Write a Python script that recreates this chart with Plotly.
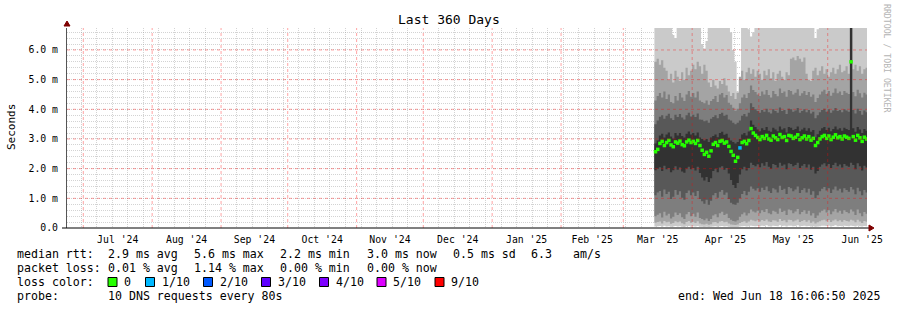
import numpy as np
import pandas as pd
import plotly.graph_objects as go

# ---------------- data ----------------
END_TIME = "2025-06-18 16:06:50"
SPAN_DAYS = 360
FIRST_DAY = "2025-03-15"

# sorted ping values per day (shown in ms as "m"), Mar 15 .. Jun 18
p1 = ([0.05, 0.06, 0.07, 0.04, 0.08, 0.05, 0.06, 0.04, 0.05, 0.07, 0.05, 0.06, 0.04, 0.03, 0.06, 0.07, 0.05]
      + [0.06, 0.05, 0.07, 0.04, 0.04, 0.03, 0.04, 0.03, 0.04, 0.05, 0.06, 0.04, 0.06, 0.07, 0.05,
         0.06, 0.04, 0.03, 0.03, 0.03, 0.03, 0.05, 0.06, 0.07, 0.05, 0.06, 0.08, 0.07, 0.06, 0.07]
      + [0.06, 0.08, 0.07, 0.09, 0.06, 0.05, 0.08, 0.07, 0.06, 0.09, 0.07, 0.08, 0.05, 0.08, 0.08, 0.06,
         0.07, 0.09, 0.05, 0.07, 0.08, 0.06, 0.07, 0.05, 0.06, 0.04, 0.05, 0.06, 0.08, 0.08, 0.07]
      + [0.08, 0.05, 0.07, 0.09, 0.06, 0.07, 0.06, 0.08, 0.07, 0.06, 0.08, 0.07, 0.05, 0.08, 0.06, 0.05, 0.07, 0.06])
p2 = ([0.18, 0.20, 0.22, 0.15, 0.24, 0.19, 0.21, 0.14, 0.17, 0.23, 0.19, 0.22, 0.16, 0.13, 0.20, 0.24, 0.18]
      + [0.21, 0.17, 0.23, 0.15, 0.13, 0.12, 0.14, 0.11, 0.13, 0.19, 0.20, 0.16, 0.22, 0.24, 0.19,
         0.21, 0.15, 0.12, 0.11, 0.10, 0.12, 0.17, 0.20, 0.23, 0.18, 0.22, 0.28, 0.25, 0.23, 0.26]
      + [0.22, 0.27, 0.24, 0.29, 0.22, 0.20, 0.26, 0.25, 0.21, 0.30, 0.24, 0.26, 0.19, 0.28, 0.27, 0.22,
         0.25, 0.29, 0.20, 0.24, 0.27, 0.21, 0.26, 0.18, 0.22, 0.15, 0.19, 0.23, 0.26, 0.28, 0.23]
      + [0.27, 0.20, 0.25, 0.29, 0.23, 0.26, 0.21, 0.27, 0.24, 0.22, 0.28, 0.25, 0.19, 0.28, 0.22, 0.17, 0.24, 0.21])
p3 = ([0.40, 0.45, 0.50, 0.35, 0.55, 0.42, 0.48, 0.32, 0.38, 0.52, 0.44, 0.50, 0.36, 0.30, 0.46, 0.54, 0.40]
      + [0.48, 0.38, 0.52, 0.34, 0.30, 0.26, 0.32, 0.24, 0.30, 0.42, 0.46, 0.36, 0.50, 0.55, 0.44,
         0.48, 0.34, 0.28, 0.24, 0.22, 0.26, 0.38, 0.46, 0.52, 0.42, 0.50, 0.62, 0.56, 0.52, 0.58]
      + [0.50, 0.60, 0.54, 0.64, 0.50, 0.46, 0.58, 0.55, 0.48, 0.66, 0.54, 0.58, 0.44, 0.62, 0.60, 0.50,
         0.56, 0.64, 0.46, 0.54, 0.60, 0.48, 0.58, 0.42, 0.50, 0.34, 0.42, 0.52, 0.58, 0.62, 0.52]
      + [0.60, 0.46, 0.56, 0.64, 0.52, 0.58, 0.48, 0.60, 0.54, 0.50, 0.62, 0.56, 0.44, 0.62, 0.50, 0.40, 0.54, 0.48])
p4 = ([1.10, 1.20, 1.25, 1.05, 1.30, 1.15, 1.22, 0.98, 1.05, 1.28, 1.12, 1.24, 1.02, 0.95, 1.18, 1.26, 1.10]
      + [1.20, 1.08, 1.25, 0.98, 0.90, 0.82, 0.95, 0.78, 0.92, 1.10, 1.18, 1.02, 1.22, 1.28, 1.12,
         1.20, 0.98, 0.85, 0.80, 0.78, 0.85, 1.00, 1.15, 1.25, 1.10, 1.22, 1.40, 1.32, 1.26, 1.34]
      + [1.22, 1.36, 1.28, 1.40, 1.24, 1.18, 1.34, 1.30, 1.20, 1.42, 1.28, 1.32, 1.15, 1.38, 1.34, 1.24,
         1.30, 1.40, 1.18, 1.28, 1.34, 1.20, 1.32, 1.12, 1.24, 1.00, 1.10, 1.24, 1.32, 1.38, 1.26]
      + [1.34, 1.18, 1.30, 1.40, 1.26, 1.32, 1.20, 1.34, 1.28, 1.22, 1.38, 1.30, 1.14, 1.36, 1.24, 1.10, 1.28, 1.20])
p5 = ([1.95, 2.00, 2.05, 1.92, 2.10, 1.98, 2.02, 1.88, 1.95, 2.08, 1.96, 2.04, 1.90, 1.86, 2.00, 2.06, 1.98]
      + [2.02, 1.94, 2.06, 1.85, 1.70, 1.60, 1.72, 1.55, 1.68, 1.92, 2.00, 1.88, 2.04, 2.08, 1.96,
         2.02, 1.84, 1.62, 1.45, 1.35, 1.52, 1.80, 1.98, 2.06, 1.94, 2.02, 2.20, 2.12, 2.08, 2.15]
      + [2.05, 2.18, 2.10, 2.22, 2.06, 2.00, 2.16, 2.12, 2.04, 2.20, 2.10, 2.14, 1.98, 2.18, 2.16, 2.08,
         2.12, 2.20, 2.02, 2.10, 2.16, 2.04, 2.14, 1.96, 2.06, 1.84, 1.92, 2.06, 2.14, 2.18, 2.08]
      + [2.16, 2.02, 2.12, 2.20, 2.08, 2.14, 2.04, 2.16, 2.10, 2.06, 2.20, 2.12, 1.98, 2.18, 2.08, 1.94, 2.10, 2.04])
p6 = ([2.85, 2.95, 3.12, 3.18, 3.05, 3.15, 3.22, 3.08, 3.02, 3.20, 3.12, 3.20, 3.10, 3.05, 3.18, 3.25, 3.15]
      + [3.20, 3.12, 3.22, 3.05, 3.00, 2.95, 3.00, 2.90, 3.05, 3.10, 3.15, 3.06, 3.20, 3.24, 3.14,
         3.18, 3.04, 2.95, 2.90, 2.85, 2.90, 3.00, 3.15, 3.20, 3.12, 3.25, 3.62, 3.48, 3.40, 3.32]
      + [3.26, 3.36, 3.30, 3.40, 3.28, 3.24, 3.38, 3.32, 3.26, 3.42, 3.32, 3.36, 3.22, 3.40, 3.38, 3.30,
         3.34, 3.42, 3.26, 3.32, 3.38, 3.28, 3.36, 3.24, 3.30, 3.06, 3.16, 3.28, 3.36, 3.40, 3.30]
      + [3.38, 3.26, 3.34, 3.42, 3.32, 3.36, 3.28, 3.38, 3.34, 3.30, 7.50, 3.36, 3.24, 3.40, 3.32, 3.20, 3.34, 3.28])
p7 = ([3.50, 3.62, 3.75, 3.80, 3.68, 3.78, 3.85, 3.70, 3.64, 3.82, 3.74, 3.84, 3.72, 3.66, 3.80, 3.88, 3.76]
      + [3.82, 3.74, 3.86, 3.66, 3.65, 3.60, 3.62, 3.55, 3.68, 3.74, 3.80, 3.70, 3.84, 3.88, 3.78,
         3.82, 3.66, 3.62, 3.55, 3.50, 3.55, 3.62, 3.78, 3.84, 3.76, 3.88, 4.20, 4.08, 4.00, 3.94]
      + [3.88, 3.98, 3.92, 4.02, 3.90, 3.86, 4.00, 3.94, 3.88, 4.06, 3.94, 3.98, 3.84, 4.02, 4.00, 3.92,
         3.96, 4.04, 3.88, 3.94, 4.00, 3.90, 3.98, 3.86, 3.92, 3.70, 3.80, 3.90, 3.98, 4.02, 3.92]
      + [4.00, 3.88, 3.96, 4.04, 3.94, 3.98, 3.90, 4.00, 3.96, 3.92, 7.50, 3.98, 3.86, 4.02, 3.94, 3.82, 3.96, 3.90])
p8 = ([4.30, 4.45, 4.55, 4.40, 4.60, 4.35, 4.50, 4.25, 4.20, 4.45, 4.30, 4.55, 4.40, 4.28, 4.50, 4.62, 4.42]
      + [4.55, 4.40, 4.60, 4.30, 4.25, 4.20, 4.30, 4.15, 4.28, 4.35, 4.45, 4.25, 4.50, 4.55, 4.40,
         4.48, 4.22, 4.15, 4.05, 3.95, 4.02, 4.20, 4.40, 4.50, 4.38, 4.55, 4.80, 4.65, 4.58, 4.50]
      + [4.45, 4.60, 4.50, 4.65, 4.48, 4.40, 4.62, 4.52, 4.44, 4.70, 4.55, 4.60, 4.42, 4.65, 4.62, 4.50,
         4.56, 4.68, 4.46, 4.54, 4.62, 4.48, 4.58, 4.42, 4.50, 4.25, 4.38, 4.50, 4.60, 4.66, 4.52]
      + [4.62, 4.46, 4.56, 4.70, 4.54, 4.60, 4.48, 4.62, 4.56, 4.52, 7.50, 4.58, 4.44, 4.66, 4.54, 4.40, 4.56, 4.50])
p9 = ([5.60, 5.70, 5.50, 5.65, 5.40, 5.30, 5.00, 5.20, 4.90, 5.30, 5.10, 4.95, 5.25, 5.00, 5.40, 5.15, 5.30]
      + [5.50, 5.35, 5.60, 5.45, 5.20, 5.50, 5.30, 4.90, 4.75, 5.00, 4.80, 4.70, 4.95, 4.85, 5.05,
         4.80, 4.60, 4.45, 4.55, 4.35, 4.55, 5.10, 5.30, 5.00, 5.25, 5.40, 5.20, 5.35, 5.10, 5.30]
      + [5.20, 5.00, 5.30, 5.15, 5.35, 5.05, 5.25, 4.95, 5.20, 5.30, 5.10, 5.00, 5.25, 5.15, 5.70, 5.75,
         5.65, 5.80, 5.70, 5.60, 5.75, 5.20, 5.00, 4.95, 5.30, 5.40, 5.15, 5.30, 5.45, 5.20, 5.35]
      + [5.10, 5.25, 5.40, 5.20, 5.35, 5.50, 5.25, 5.30, 5.45, 5.20, 7.50, 5.35, 5.50, 5.30, 5.45, 5.20, 5.35, 5.40])
p10 = ([7.40, 7.60, 7.30, 7.80, 7.50, 7.20, 7.60, 7.40, 6.50, 6.40, 7.30, 7.70, 7.50, 7.20, 7.60, 7.40, 7.80]
       + [7.50, 7.30, 7.60, 7.20, 6.20, 6.05, 6.30, 7.40, 7.60, 7.30, 7.50, 7.20, 7.70, 7.40, 7.60,
          7.30, 7.10, 6.60, 6.00, 5.60, 4.60, 5.00, 7.60, 7.40, 7.20, 6.70, 6.45, 6.60, 7.40, 7.60]
       + [7.50, 7.30, 7.60, 7.40, 7.20, 7.70, 7.50, 7.30, 7.60, 7.40, 7.80, 7.20, 7.50, 7.60, 7.30, 7.40,
          7.70, 7.50, 7.20, 7.60, 7.40, 7.30, 7.50, 7.70, 7.40, 6.40, 6.70, 7.50, 7.30, 7.60, 7.40]
       + [7.50, 7.30, 7.60, 7.40, 7.20, 7.70, 7.50, 7.30, 7.60, 7.40, 7.80, 7.20, 7.50, 7.60, 7.30, 7.40, 7.70, 7.50])
median = ([2.57, 2.65, 2.85, 2.92, 2.78, 2.88, 2.95, 2.80, 2.74, 2.90, 2.86, 2.93, 2.81, 2.77, 2.90, 2.96, 2.88]
          + [2.92, 2.85, 2.95, 2.78, 2.62, 2.48, 2.55, 2.42, 2.60, 2.82, 2.88, 2.78, 2.92, 2.95, 2.86,
             2.90, 2.75, 2.58, 2.45, 2.25, 2.38, 2.70, 2.88, 2.92, 2.84, 2.95, 3.35, 3.20, 3.12, 3.05]
          + [2.98, 3.08, 3.02, 3.12, 3.00, 2.96, 3.10, 3.04, 2.98, 3.15, 3.05, 3.08, 2.95, 3.12, 3.10, 3.02,
             3.06, 3.14, 2.98, 3.04, 3.10, 3.00, 3.08, 2.96, 3.02, 2.78, 2.88, 3.00, 3.08, 3.12, 3.02]
          + [3.10, 2.98, 3.06, 3.14, 3.04, 3.08, 3.00, 3.10, 3.06, 3.02, 5.60, 3.08, 2.96, 3.12, 3.04, 2.92, 3.06, 3.00])
loss_dates = ["2025-04-22"]
loss_counts = [1]

loss_labels = ["0", "1/10", "2/10", "3/10", "4/10", "5/10", "9/10"]
loss_levels = [0, 1, 2, 3, 4, 5, 9]
loss_colors = ["#26ff00", "#00b8ff", "#0059ff", "#5e00ff", "#7e00ff", "#dd00ff", "#ff0000"]

y_tickvals = [0, 1, 2, 3, 4, 5, 6]
y_ticktext = ["0.0", "1.0 m", "2.0 m", "3.0 m", "4.0 m", "5.0 m", "6.0 m"]

stat_rows = [
    ["median rtt:", "2.9 ms avg", "5.6 ms max", "2.2 ms min", "3.0 ms now", "0.5 ms sd", "6.3", "am/s"],
    ["packet loss:", "0.01 % avg", "1.14 % max", "0.00 % min", "0.00 % now"],
]
probe_text = ["probe:", "10 DNS requests every 80s"]
end_text = "end: Wed Jun 18 16:06:50 2025"
title_text = "Last 360 Days"
ylabel_text = "Seconds"
credit_text = "RRDTOOL / TOBI OETIKER"

# ---------------- figure ----------------
FONT = "DejaVu Sans Mono"
W, H = 897, 310
L, R, T, B = 67, 30, 28, 82
PW, PH = W - L - R, H - T - B
YMAX = 6.74

def px(x):
    return (x - L) / PW

def py(y):
    return (T + PH - y) / PH

end_ts = pd.Timestamp(END_TIME)
start_ts = end_ts - pd.Timedelta(days=SPAN_DAYS)
days = pd.date_range(FIRST_DAY, periods=len(median), freq="D")
x_step = list(days) + [end_ts]

def ext(a):
    return list(a) + [a[-1]]

fig = go.Figure()
pings = [p1, p2, p3, p4, p5, p6, p7, p8, p9, p10]
band_colors = ["#cacaca", "#a4a4a4", "#7e7e7e", "#585858", "#323232"]
for i in range(5):
    lo, hi = pings[i], pings[9 - i]
    fig.add_trace(go.Scatter(x=x_step, y=ext(lo), mode="lines",
                             line=dict(width=0, shape="hv"), hoverinfo="skip", showlegend=False))
    fig.add_trace(go.Scatter(x=x_step, y=ext(hi), mode="lines",
                             line=dict(width=0, shape="hv"), fill="tonexty",
                             fillcolor=band_colors[i], hoverinfo="skip", showlegend=False))

loss = pd.Series(0, index=days)
for d, c in zip(loss_dates, loss_counts):
    loss[pd.Timestamp(d)] = c

def loss_color(v):
    idx = 0
    for k, lv in enumerate(loss_levels):
        if v >= lv:
            idx = k
    return loss_colors[idx]

fig.add_trace(go.Scatter(
    x=days + pd.Timedelta(hours=12), y=median, mode="markers",
    marker=dict(symbol="square", size=3.5, color=[loss_color(v) for v in loss.values],
                line=dict(width=0)),
    hoverinfo="skip", showlegend=False))

grid_minor = "rgba(150,150,150,0.42)"
grid_major = "rgba(255,0,0,0.36)"

fig.update_xaxes(
    type="date", range=[start_ts, end_ts],
    tick0="2024-07-01", dtick="M1", ticklabelmode="period", tickformat="%b '%y",
    showgrid=False, zeroline=False, showline=False,
    ticks="outside", ticklen=2, tickcolor="rgba(0,0,0,0)",
    tickfont=dict(family=FONT, size=9.8, color="#000"),
    minor=dict(tickmode="linear", tick0="2024-07-07", dtick=7 * 86400000,
               showgrid=True, gridcolor=grid_minor, griddash="1px,1px", gridwidth=1),
    fixedrange=True,
)
fig.update_yaxes(
    range=[0, YMAX], tickmode="array", tickvals=y_tickvals, ticktext=y_ticktext,
    showgrid=False, zeroline=False, showline=True, linecolor="#555", linewidth=1,
    ticks="outside", ticklen=6, tickcolor="rgba(0,0,0,0)",
    tickfont=dict(family=FONT, size=9.8, color="#000"),
    minor=dict(tickmode="linear", tick0=0, dtick=0.2,
               showgrid=True, gridcolor=grid_minor, griddash="1px,1px", gridwidth=1),
    fixedrange=True,
)

shapes = []
for m in pd.date_range("2024-07-01", end_ts, freq="MS"):
    shapes.append(dict(type="line", xref="x", yref="paper", x0=m, x1=m, y0=0, y1=1,
                       line=dict(color=grid_major, width=1, dash="dot"), layer="above"))
for v in y_tickvals[1:]:
    shapes.append(dict(type="line", xref="paper", yref="y", x0=0, x1=1, y0=v, y1=v,
                       line=dict(color=grid_major, width=1, dash="dot"), layer="above"))
# axes lines and arrows
shapes.append(dict(type="line", xref="paper", yref="paper", x0=px(62), x1=px(870), y0=0, y1=0,
                   line=dict(color="#000", width=1), layer="above"))
shapes.append(dict(type="path", xref="paper", yref="paper",
                   path=f"M {px(869)} {py(225)} L {px(874)} {py(228)} L {px(869)} {py(231)} Z",
                   fillcolor="#7f0000", line=dict(color="#7f0000", width=1), layer="above"))
shapes.append(dict(type="path", xref="paper", yref="paper",
                   path=f"M {px(64)} {py(26)} L {px(67)} {py(21)} L {px(70)} {py(26)} Z",
                   fillcolor="#7f0000", line=dict(color="#7f0000", width=1), layer="above"))

# legend squares
sq_x = [108, 145.5, 203.5, 261.5, 319.5, 377, 435]
for sx, col in zip(sq_x, loss_colors):
    shapes.append(dict(type="rect", xref="paper", yref="paper",
                       x0=px(sx), x1=px(sx + 9), y0=py(286.5), y1=py(277.5),
                       fillcolor=col, line=dict(color="#000", width=1)))

ann = []
def text(x, y, s, size=11.6, anchor="left", color="#000", angle=0, yanchor="middle"):
    ann.append(dict(x=px(x), y=py(y), xref="paper", yref="paper", text=s, showarrow=False,
                    xanchor=anchor, yanchor=yanchor, textangle=angle, borderpad=0,
                    font=dict(family=FONT, size=size, color=color)))

row1_x = [16, 107, 193, 279, 366, 452, 530, 572]
row2_x = [16, 107, 193, 279, 366]
for s, x in zip(stat_rows[0], row1_x):
    text(x, 254, s.replace(" ", "&nbsp;"))
for s, x in zip(stat_rows[1], row2_x):
    text(x, 268, s.replace(" ", "&nbsp;"))
text(16, 282, "loss&nbsp;color:")
for sx, lab in zip(sq_x, loss_labels):
    text(sx + 15, 282, lab)
text(16, 296, probe_text[0])
text(107, 296, probe_text[1].replace(" ", "&nbsp;"))
text(881, 296, end_text.replace(" ", "&nbsp;"), anchor="right")
text(448.5, 19, title_text.replace(" ", "&nbsp;"), size=13, anchor="center")
text(11, 127, ylabel_text, size=11, anchor="center", angle=-90)
text(887, 59, credit_text.replace(" ", "&nbsp;"), size=8.2, anchor="center", color="#b4b4b4", angle=90)

fig.update_layout(
    width=W, height=H, autosize=False,
    margin=dict(l=L, r=R, t=T, b=B, pad=0),
    paper_bgcolor="white", plot_bgcolor="white",
    showlegend=False, shapes=shapes, annotations=ann,
    font=dict(family=FONT),
)

fig.write_html("out.html", config={"displayModeBar": False})
